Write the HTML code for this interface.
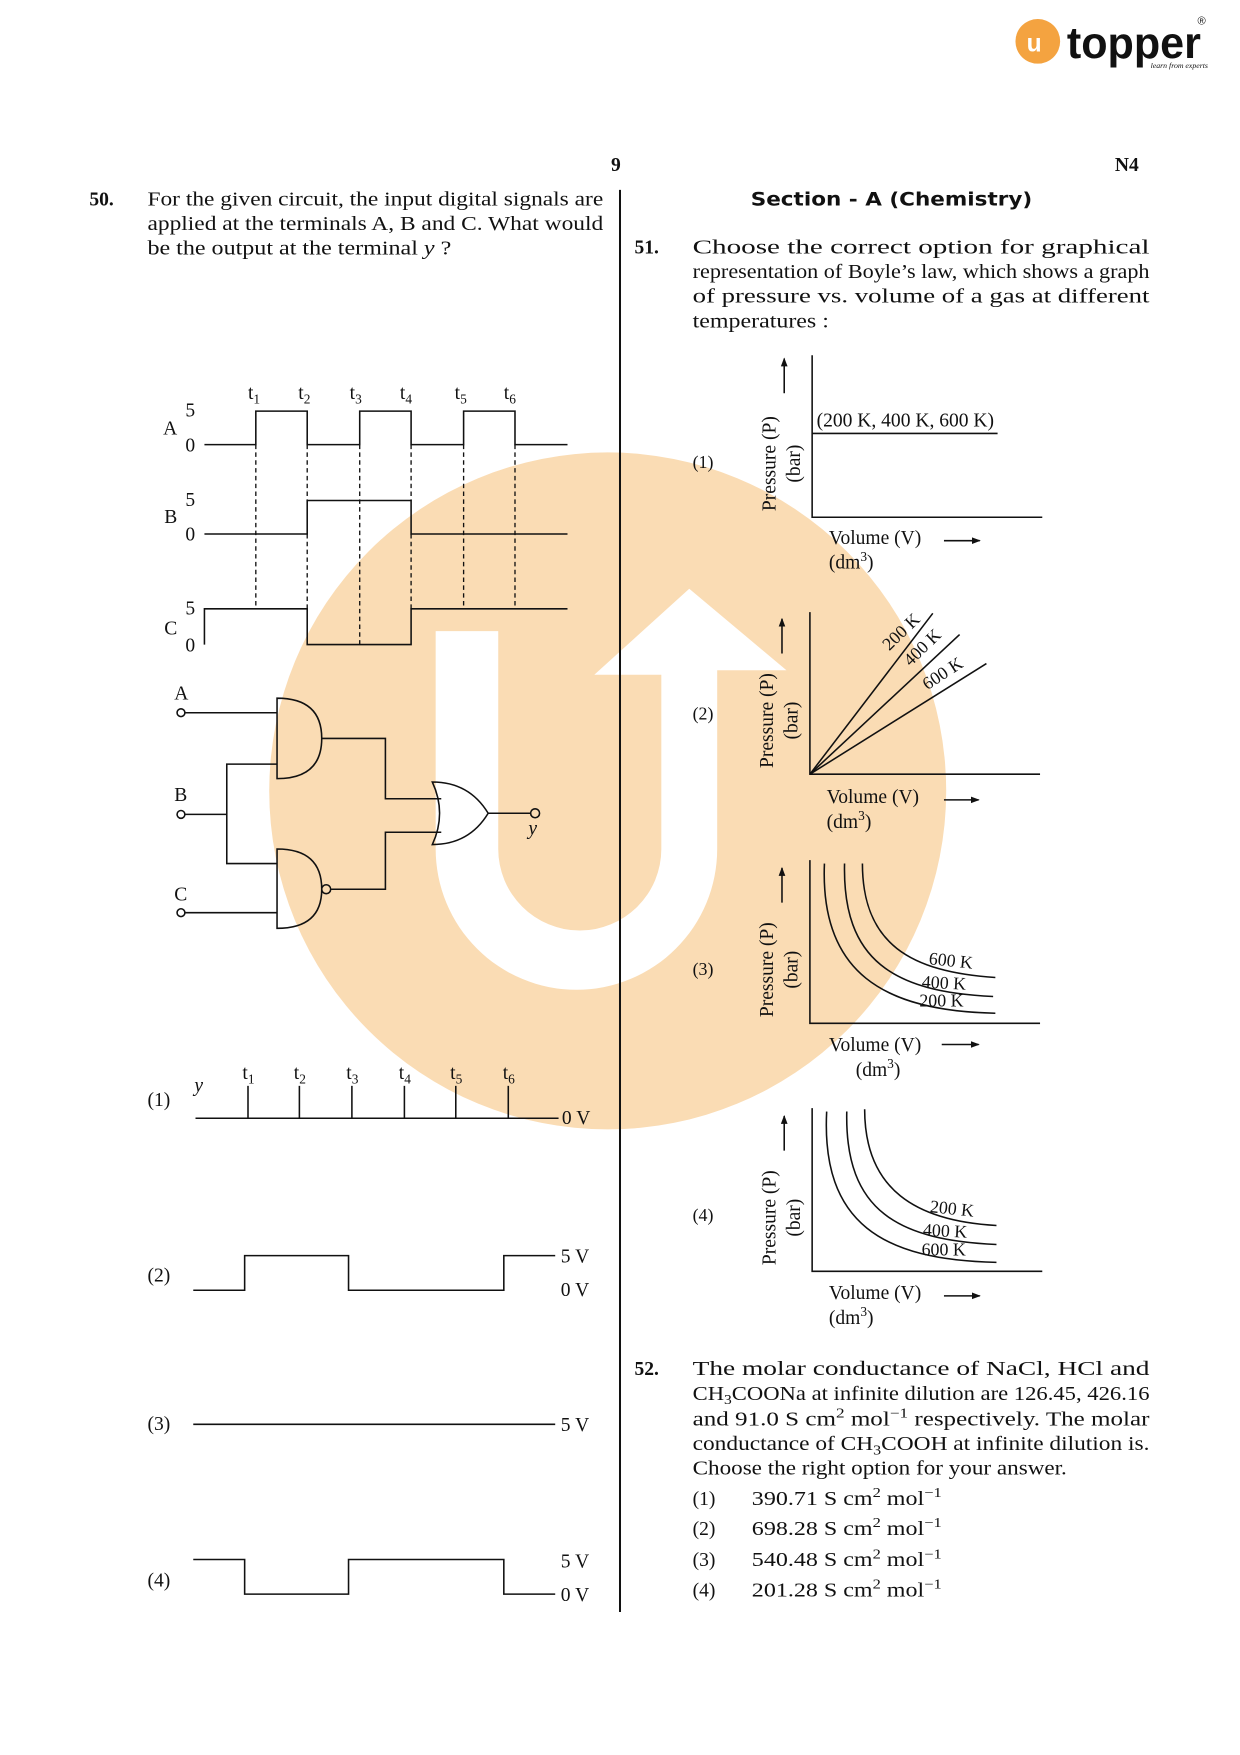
<!DOCTYPE html>
<html><head><meta charset="utf-8"><style>
html,body{margin:0;padding:0;background:#fff;}
svg{display:block;}
text{font-family:"Liberation Serif",serif;font-size:17.5px;fill:#111;}
.b{font-weight:bold;}
.s{font-size:16px;}
.sub{font-size:12px;}
</style></head><body>
<svg width="1240" height="1755" viewBox="0 0 1110 1571" preserveAspectRatio="none" xmlns="http://www.w3.org/2000/svg">
<!-- watermark -->
<circle cx="544" cy="708" r="303" fill="#FADCB4"/>
<path d="M390,565 L446,565 L446,760 A73,73 0 0 0 592,760 L592,604 L532,604 L617,527 L704,600 L642,600 L642,760 A126,126 0 0 1 390,760 Z" fill="#fff"/>

<!-- logo -->
<circle cx="929" cy="37" r="20" fill="#F4A340"/>
<text x="919" y="46" style="font-family:'Liberation Sans',sans-serif;font-size:22px;font-weight:bold;fill:#fff">u</text>
<text x="955" y="52" style="font-family:'Liberation Sans',sans-serif;font-size:40px;font-weight:bold;fill:#111" textLength="120" lengthAdjust="spacingAndGlyphs">topper</text>
<text x="1072" y="22" style="font-family:'Liberation Sans',sans-serif;font-size:10px">®</text>
<text x="1030" y="61" style="font-size:7px;font-style:italic">learn from experts</text>

<text x="547" y="153" class="b">9</text>
<text x="998" y="153" class="b">N4</text>
<line x1="555" y1="170" x2="555" y2="1443" stroke="#111" stroke-width="1.8"/>

<!-- Q50 -->
<text x="80" y="184" class="b">50.</text>
<text x="132" y="184" textLength="408" lengthAdjust="spacingAndGlyphs">For the given circuit, the input digital signals are</text>
<text x="132" y="206" textLength="408" lengthAdjust="spacingAndGlyphs">applied at the terminals A, B and C.  What would</text>
<text x="132" y="228" textLength="272" lengthAdjust="spacingAndGlyphs">be the output at the terminal <tspan font-style="italic">y</tspan> ?</text>

<!-- timing -->
<g stroke="#111" stroke-width="1.4" fill="none">
<polyline points="183,398 229,398 229,368 275,368 275,398 322,398 322,368 368,368 368,398 415,398 415,368 461,368 461,398 508,398"/>
<polyline points="183,478 275,478 275,448 368,448 368,478 508,478"/>
<polyline points="183,577 183,545 275,545 275,577 368,577 368,545 508,545"/>
<g stroke-dasharray="4,3" stroke-width="1.2">
<line x1="229" y1="398" x2="229" y2="545"/>
<line x1="275" y1="398" x2="275" y2="448"/>
<line x1="275" y1="478" x2="275" y2="545"/>
<line x1="322" y1="398" x2="322" y2="577"/>
<line x1="368" y1="398" x2="368" y2="448"/>
<line x1="368" y1="478" x2="368" y2="545"/>
<line x1="415" y1="398" x2="415" y2="545"/>
<line x1="461" y1="398" x2="461" y2="545"/>
</g>
</g>
<text x="146" y="389">A</text><text x="166" y="373">5</text><text x="166" y="404">0</text>
<text x="147" y="468">B</text><text x="166" y="453">5</text><text x="166" y="484">0</text>
<text x="147" y="568">C</text><text x="166" y="550">5</text><text x="166" y="583">0</text>
<g>
<text x="222" y="357">t<tspan class="sub" dy="4">1</tspan></text>
<text x="267" y="357">t<tspan class="sub" dy="4">2</tspan></text>
<text x="313" y="357">t<tspan class="sub" dy="4">3</tspan></text>
<text x="358" y="357">t<tspan class="sub" dy="4">4</tspan></text>
<text x="407" y="357">t<tspan class="sub" dy="4">5</tspan></text>
<text x="451" y="357">t<tspan class="sub" dy="4">6</tspan></text>
</g>

<!-- circuit -->
<g stroke="#111" stroke-width="1.4" fill="none">
<circle cx="162" cy="638" r="3.5"/><circle cx="162" cy="729" r="3.5"/><circle cx="162" cy="817" r="3.5"/>
<line x1="166" y1="638" x2="248" y2="638"/>
<line x1="166" y1="729" x2="203" y2="729"/>
<polyline points="248,684 203,684 203,773 248,773"/>
<line x1="166" y1="817" x2="248" y2="817"/>
<path d="M248,625 L248,697 Q288,697 288,661 Q288,625 248,625 Z"/>
<path d="M248,760 L248,831 Q288,831 288,796 Q288,760 248,760 Z"/>
<circle cx="292" cy="796" r="4"/>
<polyline points="288,661 345,661 345,715 395,715"/>
<polyline points="296,796 345,796 345,745 395,745"/>
<path d="M387,700 Q400,728 387,756 Q420,756 437,728 Q420,700 387,700 Z"/>
<line x1="437" y1="728" x2="475" y2="728"/>
<circle cx="479" cy="728" r="4"/>
</g>
<text x="156" y="626">A</text><text x="156" y="717">B</text><text x="156" y="806">C</text>
<text x="473" y="747" font-style="italic">y</text>

<!-- options left -->
<text x="132" y="990">(1)</text>
<text x="174" y="977" font-style="italic">y</text>
<g stroke="#111" stroke-width="1.4" fill="none">
<line x1="175" y1="1001" x2="500" y2="1001"/>
<line x1="222" y1="972" x2="222" y2="1001"/><line x1="268" y1="972" x2="268" y2="1001"/>
<line x1="315" y1="972" x2="315" y2="1001"/><line x1="362" y1="972" x2="362" y2="1001"/>
<line x1="408" y1="972" x2="408" y2="1001"/><line x1="455" y1="972" x2="455" y2="1001"/>
<polyline points="173,1155 219,1155 219,1124 312,1124 312,1155 451,1155 451,1124 497,1124"/>
<line x1="173" y1="1275" x2="497" y2="1275"/>
<polyline points="173,1396 219,1396 219,1427 312,1427 312,1396 451,1396 451,1427 497,1427"/>
</g>
<text x="217" y="966">t<tspan class="sub" dy="4">1</tspan></text>
<text x="263" y="966">t<tspan class="sub" dy="4">2</tspan></text>
<text x="310" y="966">t<tspan class="sub" dy="4">3</tspan></text>
<text x="357" y="966">t<tspan class="sub" dy="4">4</tspan></text>
<text x="403" y="966">t<tspan class="sub" dy="4">5</tspan></text>
<text x="450" y="966">t<tspan class="sub" dy="4">6</tspan></text>
<text x="503" y="1006">0 V</text>
<text x="132" y="1147">(2)</text><text x="502" y="1130">5 V</text><text x="502" y="1160">0 V</text>
<text x="132" y="1280">(3)</text><text x="502" y="1281">5 V</text>
<text x="132" y="1420">(4)</text><text x="502" y="1403">5 V</text><text x="502" y="1433">0 V</text>

<!-- Right column -->
<text x="672" y="184" class="b" style="font-family:'DejaVu Sans',sans-serif;font-size:17px" textLength="252" lengthAdjust="spacingAndGlyphs">Section - A (Chemistry)</text>
<text x="568" y="227" class="b">51.</text>
<text x="620" y="227" textLength="409" lengthAdjust="spacingAndGlyphs">Choose the correct option for graphical</text>
<text x="620" y="249" textLength="409" lengthAdjust="spacingAndGlyphs">representation of Boyle’s law, which shows a graph</text>
<text x="620" y="271" textLength="409" lengthAdjust="spacingAndGlyphs">of pressure vs. volume of a gas at different</text>
<text x="620" y="293" textLength="122" lengthAdjust="spacingAndGlyphs">temperatures :</text>

<defs><marker id="ar" markerWidth="8" markerHeight="8" refX="7" refY="4" orient="auto" markerUnits="userSpaceOnUse"><path d="M0,1 L8,4 L0,7 Z" fill="#111"/></marker></defs>

<g stroke="#111" stroke-width="1.4" fill="none">
<!-- graph1 -->
<polyline points="727,318 727,463 933,463"/>
<line x1="727" y1="388" x2="893" y2="388"/>
<line x1="702" y1="352" x2="702" y2="321" marker-end="url(#ar)"/>
<line x1="845" y1="484" x2="877" y2="484" marker-end="url(#ar)"/>
<!-- graph2 -->
<polyline points="725,548 725,693 931,693"/>
<line x1="725" y1="693" x2="835" y2="549"/>
<line x1="725" y1="693" x2="859" y2="568"/>
<line x1="725" y1="693" x2="883" y2="594"/>
<line x1="700" y1="585" x2="700" y2="554" marker-end="url(#ar)"/>
<line x1="845" y1="716" x2="876" y2="716" marker-end="url(#ar)"/>
<!-- graph3 -->
<polyline points="725,770 725,916 931,916"/>
<path d="M738,773 C734,870 790,905 891,907"/>
<path d="M756,773 C754,860 800,888 889,892"/>
<path d="M772,773 C772,845 815,870 891,875"/>
<line x1="700" y1="808" x2="700" y2="777" marker-end="url(#ar)"/>
<line x1="843" y1="935" x2="876" y2="935" marker-end="url(#ar)"/>
<!-- graph4 -->
<polyline points="727,992 727,1138 933,1138"/>
<path d="M740,995 C735,1095 790,1128 892,1130"/>
<path d="M758,995 C756,1085 805,1110 892,1114"/>
<path d="M774,993 C774,1065 820,1093 892,1097"/>
<line x1="702" y1="1030" x2="702" y2="999" marker-end="url(#ar)"/>
<line x1="845" y1="1160" x2="877" y2="1160" marker-end="url(#ar)"/>
</g>

<text x="620" y="419" class="s" fill="#555">(1)</text>
<text x="731" y="382">(200 K, 400 K, 600 K)</text>
<text transform="translate(694,415) rotate(-90)" text-anchor="middle">Pressure (P)</text>
<text transform="translate(716,415) rotate(-90)" text-anchor="middle">(bar)</text>
<text x="742" y="487">Volume (V)</text>
<text x="742" y="509">(dm<tspan class="sub" dy="-7">3</tspan><tspan dy="7">)</tspan></text>

<text x="620" y="644" class="s">(2)</text>
<text transform="translate(692,645) rotate(-90)" text-anchor="middle">Pressure (P)</text>
<text transform="translate(714,645) rotate(-90)" text-anchor="middle">(bar)</text>
<text transform="translate(796,583) rotate(-44)" class="s">200 K</text>
<text transform="translate(815,597) rotate(-44)" class="s">400 K</text>
<text transform="translate(830,618) rotate(-33)" class="s">600 K</text>
<text x="740" y="719">Volume (V)</text>
<text x="740" y="741">(dm<tspan class="sub" dy="-7">3</tspan><tspan dy="7">)</tspan></text>

<text x="620" y="873" class="s">(3)</text>
<text transform="translate(692,868) rotate(-90)" text-anchor="middle">Pressure (P)</text>
<text transform="translate(714,868) rotate(-90)" text-anchor="middle">(bar)</text>
<text transform="translate(831,863) rotate(6)" class="s">600 K</text>
<text transform="translate(825,884) rotate(3)" class="s">400 K</text>
<text x="823" y="901" class="s">200 K</text>
<text x="742" y="941">Volume (V)</text>
<text x="766" y="963">(dm<tspan class="sub" dy="-7">3</tspan><tspan dy="7">)</tspan></text>

<text x="620" y="1093" class="s">(4)</text>
<text transform="translate(694,1090) rotate(-90)" text-anchor="middle">Pressure (P)</text>
<text transform="translate(716,1090) rotate(-90)" text-anchor="middle">(bar)</text>
<text transform="translate(832,1085) rotate(6)" class="s">200 K</text>
<text transform="translate(826,1106) rotate(3)" class="s">400 K</text>
<text x="825" y="1124" class="s">600 K</text>
<text x="742" y="1163">Volume (V)</text>
<text x="742" y="1185">(dm<tspan class="sub" dy="-7">3</tspan><tspan dy="7">)</tspan></text>

<!-- Q52 -->
<text x="568" y="1231" class="b">52.</text>
<text x="620" y="1231" textLength="409" lengthAdjust="spacingAndGlyphs">The molar conductance of NaCl, HCl and</text>
<text x="620" y="1253" textLength="409" lengthAdjust="spacingAndGlyphs">CH<tspan class="sub" dy="4">3</tspan><tspan dy="-4">COONa at infinite dilution are 126.45, 426.16</tspan></text>
<text x="620" y="1276" textLength="409" lengthAdjust="spacingAndGlyphs">and 91.0 S cm<tspan class="sub" dy="-7">2</tspan><tspan dy="7"> mol</tspan><tspan class="sub" dy="-7">−1</tspan><tspan dy="7"> respectively.  The molar</tspan></text>
<text x="620" y="1298" textLength="409" lengthAdjust="spacingAndGlyphs">conductance of CH<tspan class="sub" dy="4">3</tspan><tspan dy="-4">COOH at infinite dilution is.</tspan></text>
<text x="620" y="1320" textLength="335" lengthAdjust="spacingAndGlyphs">Choose the right option for your answer.</text>
<text x="620" y="1347">(1)</text><text x="673" y="1347" textLength="170" lengthAdjust="spacingAndGlyphs">390.71 S cm<tspan class="sub" dy="-7">2</tspan><tspan dy="7"> mol</tspan><tspan class="sub" dy="-7">−1</tspan></text>
<text x="620" y="1374">(2)</text><text x="673" y="1374" textLength="170" lengthAdjust="spacingAndGlyphs">698.28 S cm<tspan class="sub" dy="-7">2</tspan><tspan dy="7"> mol</tspan><tspan class="sub" dy="-7">−1</tspan></text>
<text x="620" y="1402">(3)</text><text x="673" y="1402" textLength="170" lengthAdjust="spacingAndGlyphs">540.48 S cm<tspan class="sub" dy="-7">2</tspan><tspan dy="7"> mol</tspan><tspan class="sub" dy="-7">−1</tspan></text>
<text x="620" y="1429">(4)</text><text x="673" y="1429" textLength="170" lengthAdjust="spacingAndGlyphs">201.28 S cm<tspan class="sub" dy="-7">2</tspan><tspan dy="7"> mol</tspan><tspan class="sub" dy="-7">−1</tspan></text>
</svg>
</body></html>
